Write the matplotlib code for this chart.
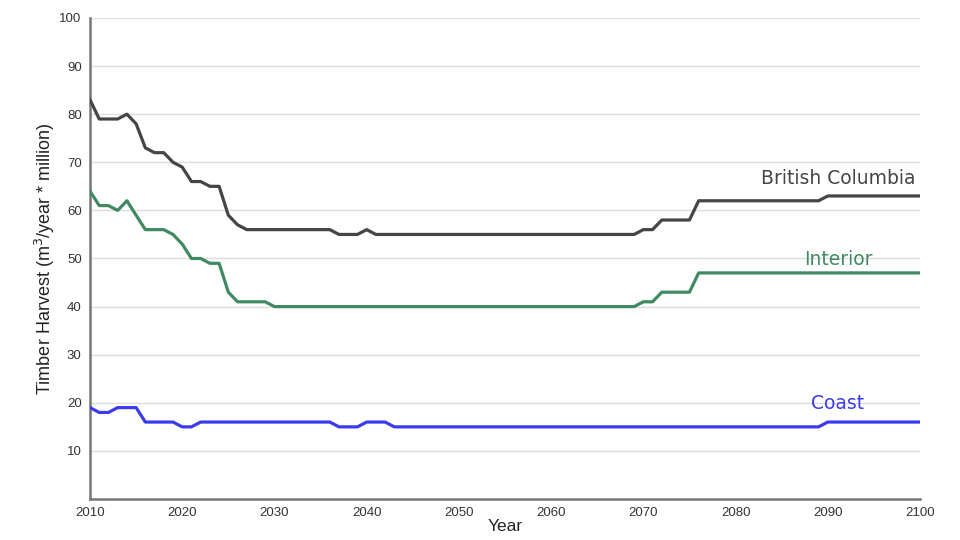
import matplotlib
matplotlib.use("Agg")
import matplotlib.pyplot as plt
import numpy as np

years = list(range(2010, 2101))

bc = [83, 79, 79, 79, 80, 78, 73, 72, 72, 70, 69, 66, 66, 65, 65, 59, 57,
      56, 56, 56, 56, 56, 56, 56, 56, 56, 56,
      55, 55, 55, 56] + [55] * 29 + [56, 56, 58, 58, 58, 58] + [62] * 14 + [63] * 11

interior = [64, 61, 61, 60, 62, 59, 56, 56, 56, 55, 53, 50, 50, 49, 49, 43,
            41, 41, 41, 41] + [40] * 40 + [41, 41, 43, 43, 43, 43] + [47] * 25

coast = [19, 18, 18, 19, 19, 19, 16, 16, 16, 16, 15, 15] + [16] * 15 + \
        [15, 15, 15, 16, 16, 16] + [15] * 47 + [16] * 11

series_names = ["British Columbia", "Interior", "Coast"]
colors = ["#454545", "#3f8a62", "#3b3bee"]
label_pos = [(2099.5, 66.6, 'right'), (2091.2, 49.8, 'center'), (2091.1, 19.8, 'center')]
yticks = list(range(10, 101, 10))
xticks = list(range(2010, 2101, 10))

plt.rcParams['font.family'] = ['Liberation Sans', 'DejaVu Sans']

fig = plt.figure(figsize=(9.6, 5.4), dpi=100)
ax = fig.add_axes([0.09375, 0.0759, 0.8646, 0.8908])

for name, vals, c, (lx, ly, ha) in zip(series_names, [bc, interior, coast], colors, label_pos):
    ax.plot(years, vals, color=c, lw=2.3, solid_joinstyle='round', zorder=3)
    ax.text(lx, ly, name, color=c, fontsize=13.5, ha=ha, va='center', zorder=4,
            family=['DejaVu Sans'])

ax.set_xlim(2010, 2100)
ax.set_ylim(0, 100)
ax.set_yticks(yticks)
ax.set_xticks(xticks)
ax.tick_params(axis='both', length=0, labelsize=9.5, colors='#333333')
ax.tick_params(axis='y', pad=6)
ax.tick_params(axis='x', pad=6)
ax.grid(axis='y', color='#dddddd', lw=1)
ax.set_axisbelow(True)
for s in ['top', 'right']:
    ax.spines[s].set_visible(False)
for s in ['left', 'bottom']:
    ax.spines[s].set_color('#777777')
    ax.spines[s].set_linewidth(1.8)

ax.set_ylabel("Timber Harvest (m$^3$/year * million)", fontsize=13, color='#222222', labelpad=2)
ax.set_xlabel("Year", fontsize=12.5, color='#222222', labelpad=0)

fig.savefig("out.png", dpi=100, facecolor='white')
